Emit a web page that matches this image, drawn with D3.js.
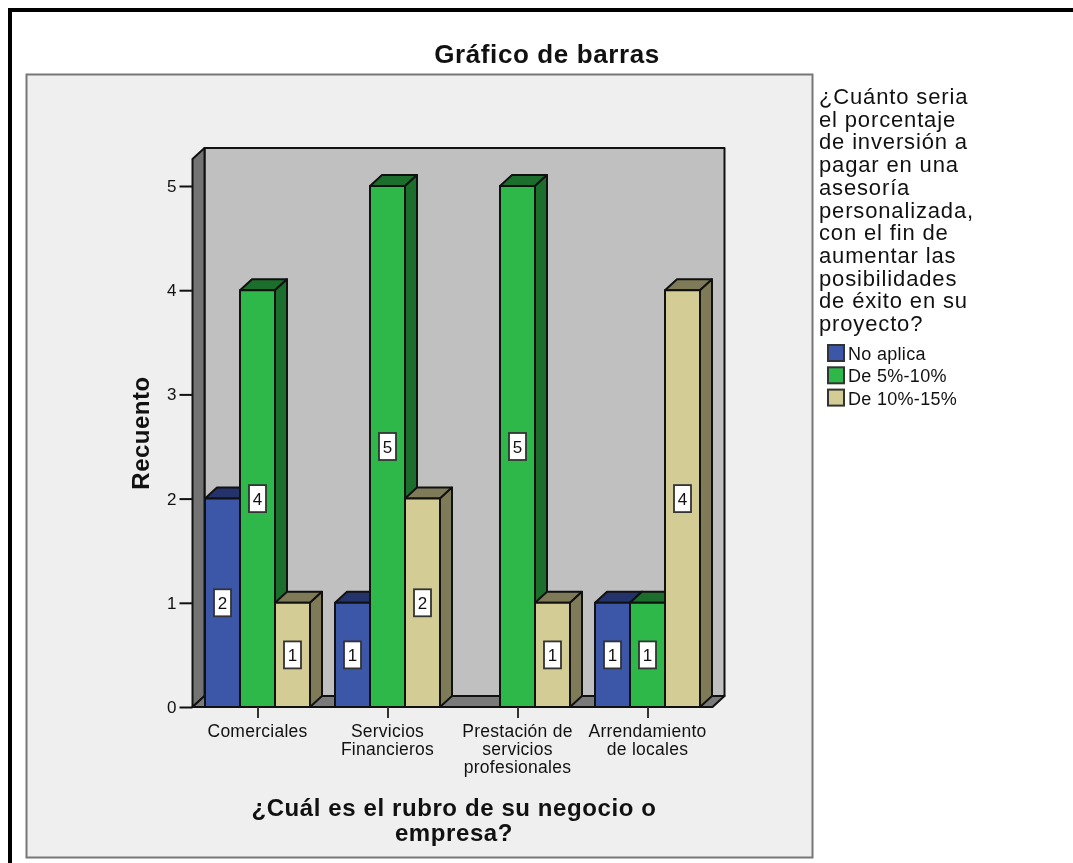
<!DOCTYPE html>
<html><head><meta charset="utf-8">
<script src="https://cdn.jsdelivr.net/npm/d3@7/dist/d3.min.js"></script>
<style>html,body{margin:0;padding:0;background:#fff;overflow:hidden}svg{display:block;font-family:"Liberation Sans",Arial,sans-serif;filter:blur(0.45px)}</style>
</head><body><div id="c"></div>
<script>
const categories=[["Comerciales"],["Servicios","Financieros"],["Prestación de","servicios","profesionales"],["Arrendamiento","de locales"]];
const seriesNames=["No aplica","De 5%-10%","De 10%-15%"];
const noAplica=[2,1,0,1];
const de5a10=[4,5,5,1];
const de10a15=[1,2,1,4];
const seriesValues=[noAplica,de5a10,de10a15];
const frontColors=["#3d57a8","#2eb84a","#d3cd95"];
const topColors=["#24336b","#1b6e2c","#7f7b59"];
const yTicks=[0,1,2,3,4,5];
const title="Gráfico de barras";
const yTitle="Recuento";
const xTitle=["¿Cuál es el rubro de su negocio o","empresa?"];
const legendTitle=["¿Cuánto seria","el porcentaje","de inversión a","pagar en una","asesoría","personalizada,","con el fin de","aumentar las","posibilidades","de éxito en su","proyecto?"];

const W=1073,H=863,DX=12,DY=11;
const svg=d3.select("#c").append("svg").attr("width",W).attr("height",H);
svg.append("rect").attr("x",10).attr("y",10).attr("width",W+20).attr("height",H+20).attr("fill","#fff").attr("stroke","#000").attr("stroke-width",4);
svg.append("rect").attr("x",26.5).attr("y",74.5).attr("width",786).attr("height",783).attr("fill","#efefef").attr("stroke","#777").attr("stroke-width",2);

const y=d3.scaleLinear().domain([0,5]).range([707,186]);
const x0=d3.scaleBand().domain(d3.range(categories.length)).range([192.5,712.5]).paddingInner(25/130).paddingOuter(12.5/130);
const x1=d3.scaleBand().domain(d3.range(seriesNames.length)).range([0,x0.bandwidth()]);
const xL=192.5,xR=712.5,yB=y(0),yT=159;
const line="#111";
const g=svg.append("g");
const poly=(pts,fill,sw=2)=>g.append("polygon").attr("points",pts.map(p=>p.join(",")).join(" ")).attr("fill",fill).attr("stroke",line).attr("stroke-width",sw).attr("stroke-linejoin","round");
// walls
poly([[xL+DX,yT-DY],[xR+DX,yT-DY],[xR+DX,yB-DY],[xL+DX,yB-DY]],"#c0c0c0");
poly([[xL,yT],[xL+DX,yT-DY],[xL+DX,yB-DY],[xL,yB]],"#737373");
poly([[xL,yB],[xL+DX,yB-DY],[xR+DX,yB-DY],[xR,yB]],"#7a7a7a");
// bars
const labels=[];
categories.forEach((c,i)=>{
  seriesValues.forEach((vals,s)=>{
    const v=vals[i]; if(!v) return;
    const a=x0(i)+x1(s),b=a+x1.bandwidth(),t=y(v);
    poly([[a,t],[a+DX,t-DY],[b+DX,t-DY],[b,t]],topColors[s]);
    poly([[b,t],[b+DX,t-DY],[b+DX,yB-DY],[b,yB]],topColors[s]);
    poly([[a,t],[b,t],[b,yB],[a,yB]],frontColors[s]);
    labels.push({v,cx:(a+b)/2,cy:y(v/2)});
  });
});
labels.forEach(l=>{
  g.append("rect").attr("x",l.cx-8.5).attr("y",l.cy-13.5).attr("width",17).attr("height",27).attr("fill","#fff").attr("stroke","#333").attr("stroke-width",1.8);
  g.append("text").attr("x",l.cx).attr("y",l.cy+6.5).attr("text-anchor","middle").attr("font-size",17).attr("fill","#111").text(l.v);
});
// y axis
const ay=svg.append("g").attr("transform",`translate(${xL},0)`).call(d3.axisLeft(y).tickValues(yTicks).tickFormat(d3.format("d")).tickSize(13).tickSizeOuter(0).tickPadding(3));
ay.select(".domain").remove();
ay.selectAll("line").attr("stroke","#111").attr("stroke-width",2);
ay.selectAll("text").attr("font-size",17).attr("font-family","Liberation Sans").attr("fill","#111");
// x axis ticks
const ax=svg.append("g").attr("transform",`translate(0,${yB})`).call(d3.axisBottom(d3.scalePoint().domain(d3.range(categories.length)).range([x0(0)+x0.bandwidth()/2,x0(3)+x0.bandwidth()/2])).tickSize(11).tickSizeOuter(0).tickFormat(""));
ax.select(".domain").remove();
ax.selectAll("line").attr("stroke","#333").attr("stroke-width",2);
categories.forEach((c,i)=>c.forEach((t,j)=>svg.append("text").attr("x",x0(i)+x0.bandwidth()/2).attr("y",737+j*18).attr("text-anchor","middle").attr("font-size",17.5).attr("letter-spacing",0.25).attr("fill","#111").text(t)));
// titles
svg.append("text").attr("x",547).attr("y",63).attr("text-anchor","middle").attr("font-size",26).attr("letter-spacing",0.6).attr("font-weight","bold").attr("fill","#111").text(title);
svg.append("text").attr("transform","translate(149,433) rotate(-90)").attr("text-anchor","middle").attr("font-size",24).attr("letter-spacing",0.5).attr("font-weight","bold").attr("fill","#111").text(yTitle);
xTitle.forEach((t,j)=>svg.append("text").attr("x",454).attr("y",816+j*25).attr("text-anchor","middle").attr("font-size",24).attr("letter-spacing",0.6).attr("font-weight","bold").attr("fill","#111").text(t));
// legend
legendTitle.forEach((t,j)=>svg.append("text").attr("x",819).attr("y",104+j*22.7).attr("font-size",22).attr("letter-spacing",0.85).attr("fill","#111").text(t));
seriesNames.forEach((n,s)=>{
  svg.append("rect").attr("x",828).attr("y",345+s*22.3).attr("width",16).attr("height",16).attr("fill",frontColors[s]).attr("stroke","#333").attr("stroke-width",2);
  svg.append("text").attr("x",848).attr("y",360+s*22.3).attr("font-size",18).attr("letter-spacing",0.3).attr("fill","#111").text(n);
});
</script></body></html>
